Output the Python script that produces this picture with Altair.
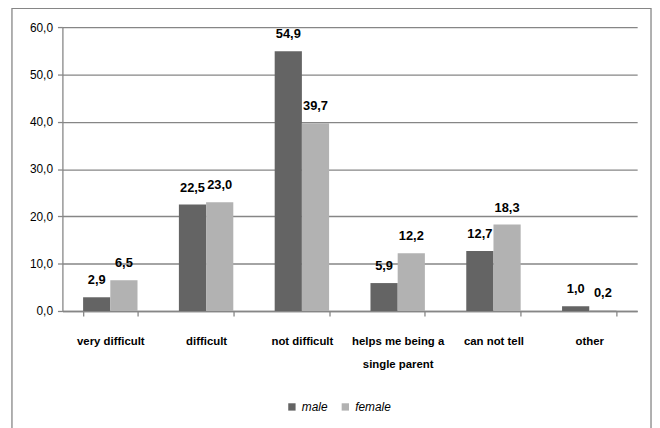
import altair as alt
import pandas as pd

categories = ["very difficult", "difficult", "not difficult",
              "helps me being a|single parent", "can not tell", "other"]
male = [2.9, 22.5, 54.9, 5.9, 12.7, 1.0]
female = [6.5, 23.0, 39.7, 12.2, 18.3, 0.2]
series = ["male", "female"]
colors = ["#646464", "#b2b2b2"]
y_ticks = [0, 10, 20, 30, 40, 50, 60]

rows = []
for c, m, f in zip(categories, male, female):
    rows.append({"category": c, "sex": "male", "value": m})
    rows.append({"category": c, "sex": "female", "value": f})
df = pd.DataFrame(rows)

GRAY = "#868686"
FONT = "Liberation Sans"

x_enc = alt.X(
    "category:N", sort=categories,
    scale=alt.Scale(paddingInner=0.432, paddingOuter=0.216),
    axis=alt.Axis(title=None, labelAngle=0, labelExpr="split(datum.label, '|')",
                  tickBand="extent", tickSize=5, tickColor=GRAY, domainColor=GRAY,
                  domainWidth=1.3, tickWidth=1.3,
                  labelFont=FONT, labelFontWeight="bold", labelFontSize=11.5,
                  labelColor="#000000", labelPadding=26, labelLineHeight=23,
                  labelBaseline="middle", grid=False),
)
y_enc = alt.Y(
    "value:Q", scale=alt.Scale(domain=[0, 60], nice=False),
    axis=alt.Axis(title=None, values=y_ticks,
                  labelExpr="replace(format(datum.value, '.1f'), '.', ',')",
                  tickSize=5, tickColor=GRAY, domainColor=GRAY, gridColor=GRAY,
                  domainWidth=1.3, tickWidth=1.3,
                  gridWidth=1.3, labelFont=FONT, labelFontSize=12, labelColor="#000000",
                  labelPadding=5),
)
xoff = alt.XOffset("sex:N", sort=series, scale=alt.Scale(paddingInner=0, paddingOuter=0))

base = alt.Chart(df).transform_calculate(
    label="replace(format(datum.value, '.1f'), '.', ',')"
)

bars = base.mark_bar().encode(
    x=x_enc, y=y_enc, xOffset=xoff,
    color=alt.Color("sex:N", sort=series,
                    scale=alt.Scale(domain=series, range=colors),
                    legend=alt.Legend(title=None, orient="none", legendX=226, legendY=378,
                                      direction="horizontal", symbolType="square",
                                      symbolSize=55, symbolStrokeWidth=0,
                                      labelFont=FONT, labelFontStyle="italic",
                                      labelFontSize=12, labelOffset=4, columnPadding=11,
                                      labelColor="#000000")),
)

text = base.mark_text(dy=-17, fontWeight="bold", fontSize=13, font=FONT,
                      baseline="middle", color="#000000").encode(
    x=x_enc, y=y_enc, xOffset=xoff, text="label:N"
)

border = alt.Chart(pd.DataFrame({"a": [0]})).mark_rect(
    fillOpacity=0, stroke=GRAY, strokeWidth=1.3
).encode(x=alt.value(-51), x2=alt.value(595), y=alt.value(-19), y2=alt.value(440))

chart = alt.layer(border, bars, text).properties(
    width=581, height=287,
    padding={"left": 55, "top": 17, "right": 15, "bottom": 116},
    autosize=alt.AutoSizeParams(type="none"),
    background="#ffffff",
).configure_view(stroke=None)

chart.save("out.html", embed_options={"renderer": "svg", "actions": False})
